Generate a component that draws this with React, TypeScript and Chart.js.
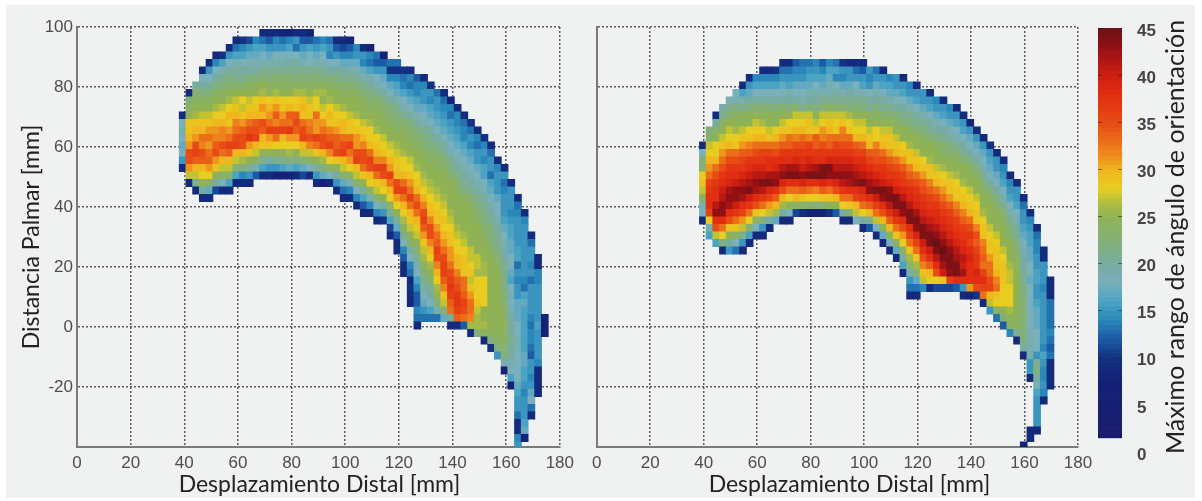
import React, { useEffect, useRef } from "react";
import { Chart, registerables } from "chart.js";

Chart.register(...registerables);

const xTicks = [0, 20, 40, 60, 80, 100, 120, 140, 160, 180];
const yTicks = [-40, -20, 0, 20, 40, 60, 80, 100];
const colorTicks = [0, 5, 10, 15, 20, 25, 30, 35, 40, 45];
const xTitle = "Desplazamiento Distal [mm]";
const yTitle = "Distancia Palmar [mm]";
const colorTitle = "Máximo rango de ángulo de orientación";

const colorStops: number[][] = [
  [0, 27, 26, 107], [8, 20, 34, 120], [10, 20, 50, 130], [12, 28, 90, 165], [14, 42, 135, 185],
  [16, 75, 163, 195], [18, 122, 175, 188], [20, 120, 172, 160], [22, 130, 176, 125], [25, 143, 178, 85],
  [26, 165, 185, 72], [27, 195, 195, 50], [28, 232, 205, 32], [30, 240, 182, 30], [31, 238, 150, 30], [33, 235, 110, 25], [35, 232, 75, 22],
  [38, 225, 45, 18], [40, 205, 30, 18], [43, 145, 16, 20], [45, 105, 18, 22],
];

// Each panel: first row of each column (rows counted down from the top of the axis, 2.5 mm each) and cell values top-down.
const leftTops = [11, 8, 7, 5, 4, 3, 3, 2, 1, 1, 1, 1, 0, 0, 0, 0, 0, 0, 0, 0, 1, 1, 1, 1, 1, 1, 2, 2, 2, 3, 3, 4, 4, 5, 5, 6, 6, 7, 8, 8, 9, 10, 11, 12, 13, 14, 15, 17, 18, 20, 22, 24, 27, 30, 38];
const leftColumns: (number | null)[][] = [
  [9,18,19,18,17,18,15,9],
  [9,22,24,25,29,29,30,31,35,35,31,27,9],
  [20,23,24,25,26,29,30,31,35,36,34,30,27,21,9],
  [9,18,20,22,24,25,27,29,30,33,32,35,34,30,28,25,20,9],
  [9,15,18,20,22,24,25,27,29,31,33,31,33,34,31,28,24,17,9],
  [9,14,18,20,22,24,25,26,28,30,31,32,34,35,31,29,25,20,11],
  [10,16,19,21,22,24,25,27,28,30,32,32,35,33,30,27,24,18,9],
  [9,15,18,20,22,23,25,26,28,30,29,31,33,36,34,30,27,23,16,9],
  [9,13,16,19,20,21,23,25,27,29,30,32,33,35,36,30,27,23,16,9],
  [10,14,16,18,20,21,23,25,28,27,29,31,34,35,35,30,26,22,14,9],
  [11,15,17,19,20,22,24,25,27,29,30,33,35,37,31,29,25,21,15,9],
  [14,16,17,19,20,22,24,25,28,29,30,34,35,36,30,27,24,19,12],
  [9,13,16,18,19,21,23,25,26,29,31,30,35,34,30,29,25,21,16,9],
  [9,12,15,17,19,21,22,24,25,28,30,31,33,36,31,29,25,20,15,9],
  [9,14,15,18,19,21,23,24,26,29,31,34,32,36,33,28,25,21,15,8],
  [8,13,15,18,19,21,23,24,25,28,29,31,33,36,30,28,25,21,16,8],
  [7,14,16,18,20,21,23,24,25,28,30,34,33,37,31,28,26,22,17,8],
  [9,15,13,18,20,21,22,24,26,28,29,34,35,34,31,28,25,22,16,9],
  [9,12,15,17,19,21,23,24,26,29,30,29,33,35,36,30,27,23,17,11],
  [8,12,16,18,18,21,22,24,25,27,29,29,32,33,35,32,27,24,18,9],
  [13,15,17,19,21,23,24,26,28,28,33,31,31,36,33,29,25,21,15,9],
  [14,16,18,19,21,22,24,26,25,27,28,31,33,35,35,30,26,22,17,8],
  [13,15,14,18,20,22,24,25,26,28,30,29,32,34,36,32,28,24,18,9],
  [9,12,15,18,20,22,23,25,25,27,28,29,31,34,34,35,29,25,20,15,9],
  [9,11,14,17,20,21,23,24,25,26,28,30,30,33,35,36,30,27,23,17,13,9],
  [8,12,14,17,19,21,23,24,25,25,27,29,29,33,36,33,31,28,24,19,14,9],
  [14,15,17,19,21,22,24,25,25,26,28,29,31,31,35,36,30,27,23,18,14,9],
  [9,15,14,17,19,21,22,24,25,25,27,28,30,32,35,35,33,29,25,21,16,12,9],
  [8,14,13,16,19,20,22,23,24,25,26,28,28,30,33,36,35,30,28,24,19,14,9],
  [13,12,15,18,19,21,23,24,25,25,26,28,29,30,32,36,33,29,27,23,18,14,9],
  [8,12,15,17,18,20,22,23,24,25,25,27,28,29,32,36,35,30,28,25,20,15,10],
  [13,10,14,17,18,20,22,23,24,25,25,27,28,30,31,36,33,30,28,24,21,16,11,9],
  [13,10,14,16,17,19,21,22,23,24,25,26,27,29,29,30,35,36,31,28,25,21,17,12,9,9],
  [10,13,14,16,18,19,21,23,24,25,25,26,28,28,30,33,36,33,30,28,26,24,21,18,14,12,9,9],
  [9,14,13,15,17,18,20,22,23,24,25,25,27,28,29,31,33,36,33,30,29,27,25,23,20,18,14,13,9,10,9,9],
  [12,14,14,16,17,19,20,22,23,24,25,25,26,28,29,30,33,35,33,30,29,27,25,23,21,19,18,16,14,12,12,14,13,9],
  [9,14,15,15,17,18,19,21,22,23,24,25,25,26,27,28,30,32,35,36,34,31,29,27,26,24,22,21,19,18,17,15,13],
  [10,15,14,16,17,18,20,21,22,23,24,25,25,26,27,28,29,30,32,35,35,32,30,28,26,25,23,21,20,18,16,13],
  [13,15,15,16,17,18,20,21,23,24,24,25,25,26,27,28,29,29,31,33,34,36,35,32,30,28,26,25,22,19,13],
  [9,13,14,15,16,17,18,20,21,23,24,25,25,25,26,27,28,29,28,30,31,33,35,36,36,34,32,29,27,23,17],
  [8,14,13,15,16,17,18,19,21,22,23,25,25,25,25,26,27,28,29,29,31,31,33,35,36,37,36,34,33,20,9],
  [9,14,14,15,16,17,18,19,20,22,23,24,25,25,25,25,26,27,28,28,30,30,32,34,35,37,37,36,34,9],
  [9,13,14,14,16,17,18,19,20,21,22,24,25,25,25,25,26,27,28,29,29,29,33,33,34,36,35,33,12],
  [10,13,15,14,16,17,18,19,20,21,23,24,25,25,25,25,25,27,27,28,29,27,29,31,33,33,32,26,9],
  [9,14,13,15,15,17,18,19,20,21,22,23,24,25,25,25,25,27,27,26,28,28,28,29,27,26,26,22],
  [10,14,15,14,16,16,18,19,20,21,22,22,23,24,25,25,25,26,26,28,28,28,28,25,25,26,24,9],
  [9,13,15,15,13,16,17,18,19,20,21,22,22,23,24,25,25,25,25,25,25,25,25,25,25,24,22,10],
  [9,14,15,15,15,17,18,18,19,20,21,21,22,23,24,25,25,25,25,25,25,25,25,25,24,22,15],
  [9,15,13,14,15,15,15,16,17,18,19,19,20,21,21,22,22,23,23,24,24,25,24,24,23,22,19,8],
  [9,15,15,15,14,15,16,16,17,17,18,18,17,16,18,19,18,19,20,20,20,21,20,20,19,18,16,8],
  [9,13,14,15,15,15,15,16,16,13,15,14,15,15,17,17,17,18,18,19,19,18,18,18,18,17,16,15,15,13,9,9,14,15,15],
  [9,14,15,15,15,15,15,15,15,14,13,16,17,16,16,16,16,16,16,17,17,16,16,15,14,15,15,15,16,17,8],
  [9,13,15,15,14,15,13,15,15,15,15,14,13,14,14,13,12,15,15,14,15,17,18,13,9],
  [9,9,14,14,15,15,15,15,15,16,15,15,15,15,14,9,9,9,9],
  [8,7,8],
];

const rightTops = [15, 13, 11, 10, 9, 8, 7, 6, 6, 5, 5, 5, 4, 4, 4, 4, 4, 4, 4, 4, 4, 4, 4, 4, 4, 5, 5, 5, 6, 6, 6, 7, 7, 8, 8, 9, 9, 10, 10, 11, 12, 13, 14, 15, 16, 17, 19, 20, 22, 24, 26, 29, 33];
const rightColumns: (number | null)[][] = [
  [9,18,22,23,28,29,27,24,19,18,9],
  [22,23,27,28,30,31,33,36,37,38,38,36,28,19,16],
  [9,20,23,25,28,28,30,33,35,37,38,38,41,43,38,35,27,16],
  [20,21,24,25,27,29,31,33,35,37,38,40,41,43,43,38,33,28,22,9],
  [19,21,23,25,27,28,30,33,35,37,38,39,42,43,42,38,35,29,25,20,15],
  [18,19,22,24,25,26,28,29,33,35,37,38,40,43,43,40,37,33,29,24,18,13],
  [9,16,19,21,24,25,27,29,31,34,36,37,39,41,43,42,38,36,31,27,21,15,9],
  [9,15,17,20,22,25,25,28,29,32,34,37,38,40,42,44,40,37,33,28,23,16,9],
  [14,16,18,20,23,25,27,28,30,33,35,37,39,41,43,42,38,35,29,24,18,9],
  [9,14,16,18,20,23,24,26,28,30,33,36,37,39,41,44,41,37,33,28,22,15,9],
  [9,14,16,18,20,22,25,25,27,29,33,36,38,38,42,44,39,36,31,27,20,9],
  [10,14,16,18,20,22,24,25,28,30,33,35,38,39,42,43,38,34,30,26,17],
  [9,13,15,17,18,20,23,25,27,29,31,34,37,38,41,43,39,35,30,26,20,9],
  [9,13,15,16,19,20,22,25,28,29,33,34,37,38,42,44,38,33,28,24,18,9],
  [12,14,15,17,18,20,23,27,28,30,32,35,37,39,42,44,38,33,30,24,11],
  [13,14,15,17,18,19,21,27,28,30,33,35,37,38,40,43,39,34,29,23,9],
  [13,15,16,17,19,20,22,27,29,29,32,36,37,39,41,44,38,33,28,23,8],
  [14,15,16,18,19,20,22,25,27,29,34,34,37,38,42,44,38,32,28,22,8],
  [12,14,16,17,19,21,23,27,28,31,32,35,37,38,44,44,39,34,29,23,8],
  [14,16,17,19,19,21,24,27,29,30,33,34,37,39,44,43,38,33,29,25,10],
  [13,16,14,18,20,21,23,27,28,29,33,36,37,39,41,43,39,35,30,25,12],
  [10,15,14,17,19,21,23,27,29,32,33,35,37,39,41,43,41,37,33,28,20,9],
  [9,15,15,17,20,21,22,26,28,29,33,35,37,39,41,43,42,38,33,29,23,9],
  [9,13,15,18,19,21,23,25,27,28,30,34,36,38,40,42,43,38,36,30,27,18],
  [9,12,15,16,19,21,22,25,27,28,30,33,36,38,39,41,44,39,37,33,28,20,9],
  [15,14,15,18,20,21,24,25,27,29,30,34,36,38,40,42,43,38,34,30,21,12],
  [13,15,17,19,20,22,24,25,28,28,32,34,35,37,39,41,44,40,36,33,27,18,9],
  [9,15,16,18,20,21,23,25,27,29,30,33,35,37,38,40,44,43,38,35,30,25,17,9],
  [14,16,17,19,21,23,25,27,29,29,31,34,36,37,39,43,44,41,38,34,30,25,18,9],
  [15,15,17,18,20,22,24,25,27,29,30,33,35,37,38,40,44,44,40,37,33,29,24,17,9],
  [9,15,16,18,20,21,23,25,25,28,29,31,34,36,37,39,41,44,43,38,35,31,28,24,20,16,9],
  [14,15,17,19,21,22,24,25,26,29,29,32,34,36,38,39,41,44,44,38,36,33,29,26,23,19,15,13,9],
  [9,15,16,18,20,21,23,25,25,27,29,30,33,35,37,38,39,42,44,43,39,36,33,29,26,23,17,13,9],
  [15,15,17,19,21,22,24,25,25,28,29,31,34,35,37,38,39,41,44,44,40,38,35,32,29,27,14],
  [9,15,16,18,20,21,23,25,25,26,29,29,32,34,36,37,38,40,42,44,44,40,38,34,30,28,9],
  [14,15,17,19,20,22,24,25,25,27,29,30,33,35,37,38,39,41,43,45,44,41,38,35,28,11],
  [9,15,16,18,20,21,23,24,25,26,28,29,31,33,35,37,38,39,41,43,45,44,42,40,29,11],
  [14,15,17,19,20,22,23,25,25,27,29,29,31,34,36,37,38,39,41,43,44,44,43,36,11],
  [9,15,16,18,19,21,23,24,25,26,28,29,29,32,34,36,37,38,39,41,42,44,44,38,12],
  [9,15,16,18,20,21,23,25,25,26,28,29,30,32,34,36,37,38,39,41,40,42,38,15,9],
  [8,15,17,18,20,22,24,25,25,27,28,29,30,33,35,37,36,38,39,38,38,38,31,8],
  [9,15,17,18,20,22,24,25,25,27,28,29,29,32,35,34,36,37,37,39,38,35,10],
  [9,15,17,18,19,21,23,24,25,25,26,28,29,29,32,33,34,33,36,38,36,33,9],
  [10,15,16,17,18,20,22,24,25,25,25,27,28,29,29,31,33,33,35,36,30,27,15],
  [9,15,15,17,18,20,22,23,25,25,25,27,28,29,29,29,30,32,33,29,28,24,13],
  [9,14,15,16,18,19,21,23,24,25,25,25,27,28,29,29,29,28,28,28,25,22,12],
  [9,14,15,16,18,19,21,22,23,25,25,25,26,27,27,28,28,28,26,25,24,14],
  [9,15,15,16,18,19,20,21,22,23,24,25,25,25,25,25,25,25,24,24,21,9],
  [9,13,15,15,16,17,18,19,20,20,21,21,22,22,23,23,23,23,22,22,20,9,null,null,null,null,null,null,null,null,null,null,null,8],
  [9,14,15,16,16,17,17,18,18,17,18,18,18,18,18,18,19,19,19,19,15,15,9,null,null,null,null,null,null,9,9],
  [9,13,14,14,15,15,16,16,15,15,16,17,17,17,18,18,18,15,21,22,20,19,16,15,15,15,15,9],
  [9,9,15,15,15,14,15,15,15,15,15,15,15,14,16,15,14,14,15,14,9],
  [9,9,9,13,13,13,13,14,13,12,13,9,9,9,9],
];

const colorLevels = [1.5, 2, 2.5, 3, 3.5, 4, 4.5, 5, 5.5, 6, 6.5, 7, 7.5, 8, 8.5, 9, 9.5, 10, 10.5, 11, 11.5, 12, 12.5, 13, 13.5, 14, 14.5, 15, 15.5, 16, 16.5, 17, 17.5, 18, 18.5, 19, 19.5, 20, 20.5, 21, 21.5, 22, 22.5, 23, 23.5, 24, 24.5, 25, 25.5, 26, 26.5, 27, 27.5, 28, 28.5, 29, 29.5, 30, 30.5, 31, 31.5, 32, 32.5, 33, 33.5, 34, 34.5, 35, 35.5, 36, 36.5, 37, 37.5, 38, 38.5, 39, 39.5, 40, 40.5, 41, 41.5, 42, 42.5, 43, 43.5, 44, 44.5];

const CELL = 2.5;
const LEVEL_STEP = 0.5;

function colorFor(v: number): string {
  let a = colorStops[0];
  let b = colorStops[colorStops.length - 1];
  for (let i = 0; i < colorStops.length - 1; i++) {
    if (v >= colorStops[i][0] && v <= colorStops[i + 1][0]) {
      a = colorStops[i];
      b = colorStops[i + 1];
      break;
    }
  }
  const t = (v - a[0]) / (b[0] - a[0] || 1);
  const c = [1, 2, 3].map((n) => Math.round(a[n] + (b[n] - a[n]) * t));
  return `rgb(${c[0]},${c[1]},${c[2]})`;
}

function buildCells(tops: number[], columns: (number | null)[][], xStart: number, yStart: number) {
  const data: { x: number; y: number[] }[] = [];
  const colors: string[] = [];
  columns.forEach((col, i) => {
    col.forEach((v, j) => {
      if (v === null) return;
      const top = yStart - CELL * (tops[i] + j);
      data.push({ x: xStart + CELL * i, y: [top - CELL, top] });
      colors.push(colorFor(v));
    });
  });
  return { data, colors };
}

const FONT_LABEL = 'Lato, "Open Sans", sans-serif';
const FONT_TICK = '"Liberation Sans", Arial, sans-serif';

function panelConfig(tops: number[], columns: (number | null)[][], xStart: number, opts: { yWidth: number; right: number; showY: boolean; titleX: number }) {
  const { data, colors } = buildCells(tops, columns, xStart, 99.25);
  const gridLine = { color: "#5c5c5c", lineWidth: 1.5, drawTicks: false };
  const border = { color: "#7a7a7a", width: 2, dash: [2, 2] };
  return {
    type: "bar" as const,
    data: { datasets: [{ data, backgroundColor: colors, borderWidth: 0, barThickness: 7, grouped: false }] },
    options: {
      animation: false as const,
      responsive: false,
      layout: { padding: { top: 27, right: opts.right, bottom: 0, left: 0 } },
      plugins: { legend: { display: false }, tooltip: { enabled: false } },
      scales: {
        x: {
          type: "linear" as const, min: 0, max: 180, offset: false,
          afterBuildTicks: (s: any) => { s.ticks = xTicks.map((value) => ({ value })); },
          grid: { ...gridLine, offset: false }, border,
          ticks: { color: "#4d4d4d", font: { family: FONT_TICK, size: 17 }, padding: 6, maxRotation: 0, autoSkip: false },
          afterFit: (s: any) => { s.height = 54; },
        },
        y: {
          type: "linear" as const, min: -40, max: 100,
          afterBuildTicks: (s: any) => { s.ticks = yTicks.map((value) => ({ value })); },
          grid: gridLine, border,
          ticks: {
            display: opts.showY, color: "#4d4d4d", font: { family: FONT_TICK, size: 17 }, padding: 4, autoSkip: false,
            callback: (v: any) => (v === -40 ? "" : String(v)),
          },
          title: { display: opts.showY, text: yTitle, color: "#222", font: { family: FONT_LABEL, size: 23 }, padding: { top: 18, bottom: 0 } },
          afterFit: (s: any) => { s.width = opts.yWidth; },
        },
      },
    },
    plugins: [{
      id: "xLabel",
      afterDraw(chart: any) {
        const c = chart.ctx;
        c.save();
        c.font = `23px ${FONT_LABEL}`;
        c.fillStyle = "#222";
        c.textAlign = "center";
        c.textBaseline = "middle";
        c.fillText(xTitle, opts.titleX, 485);
        c.restore();
      },
    }],
  };
}

function colorbarConfig() {
  return {
    type: "bar" as const,
    data: {
      datasets: [{
        data: colorLevels.map((v) => ({ x: 0.5, y: [v, v + LEVEL_STEP] })),
        backgroundColor: colorLevels.map((v) => colorFor(v + LEVEL_STEP / 2)),
        borderWidth: 0, barThickness: 24, grouped: false,
      }],
    },
    options: {
      animation: false as const,
      responsive: false,
      layout: { padding: { top: 28, right: 0, bottom: 49, left: 13 } },
      plugins: { legend: { display: false }, tooltip: { enabled: false } },
      scales: {
        x: { type: "linear" as const, min: 0, max: 1, offset: false, display: false },
        y: {
          type: "linear" as const, position: "right" as const, min: 0, max: 45,
          afterBuildTicks: (s: any) => { s.ticks = colorTicks.map((value) => ({ value })); },
          grid: { color: (ctx: any) => (ctx.tick && ctx.tick.value === 0 ? "rgba(0,0,0,0)" : "rgba(30,30,30,0.55)"), lineWidth: 1, z: 1, drawTicks: false },
          border: { display: false, dash: [4, 16, 4] },
          ticks: { color: "#444", font: { family: FONT_TICK, size: 17, weight: "bold" as const }, padding: 15, labelOffset: 3, autoSkip: false },
          afterFit: (s: any) => { s.width = 80; },
        },
      },
    },
    plugins: [{
      id: "colorLabel",
      afterDraw(chart: any) {
        const c = chart.ctx;
        c.save();
        c.translate(1176 - 1085, 237);
        c.rotate(-Math.PI / 2);
        c.font = `25px ${FONT_LABEL}`;
        c.fillStyle = "#222";
        c.textAlign = "center";
        c.textBaseline = "middle";
        c.fillText(colorTitle, 0, 0);
        c.restore();
      },
    }],
  };
}

export default function App() {
  const leftRef = useRef<HTMLCanvasElement>(null);
  const rightRef = useRef<HTMLCanvasElement>(null);
  const barRef = useRef<HTMLCanvasElement>(null);

  useEffect(() => {
    const charts = [
      new Chart(leftRef.current!, panelConfig(leftTops, leftColumns, 39.4, { yWidth: 77, right: 17, showY: true, titleX: 319.5 }) as any),
      new Chart(rightRef.current!, panelConfig(rightTops, rightColumns, 39.7, { yWidth: 7, right: 22, showY: false, titleX: 849.5 - 586 }) as any),
      new Chart(barRef.current!, colorbarConfig() as any),
    ];
    return () => charts.forEach((c) => c.destroy());
  }, []);

  const abs = (left: number, width: number): React.CSSProperties => ({ position: "absolute", left, top: 0, width, height: 501 });
  return (
    <div style={{ position: "absolute", left: 0, top: 0, width: 1202, height: 501, background: "#fff", overflow: "hidden" }}>
      <div style={{ position: "absolute", left: 6, top: 5, width: 1189, height: 493, background: "#f0f1f1" }} />
      <canvas ref={leftRef} width={580} height={501} style={abs(0, 580)} />
      <canvas ref={rightRef} width={514} height={501} style={abs(586, 514)} />
      <canvas ref={barRef} width={117} height={501} style={abs(1085, 117)} />
    </div>
  );
}
